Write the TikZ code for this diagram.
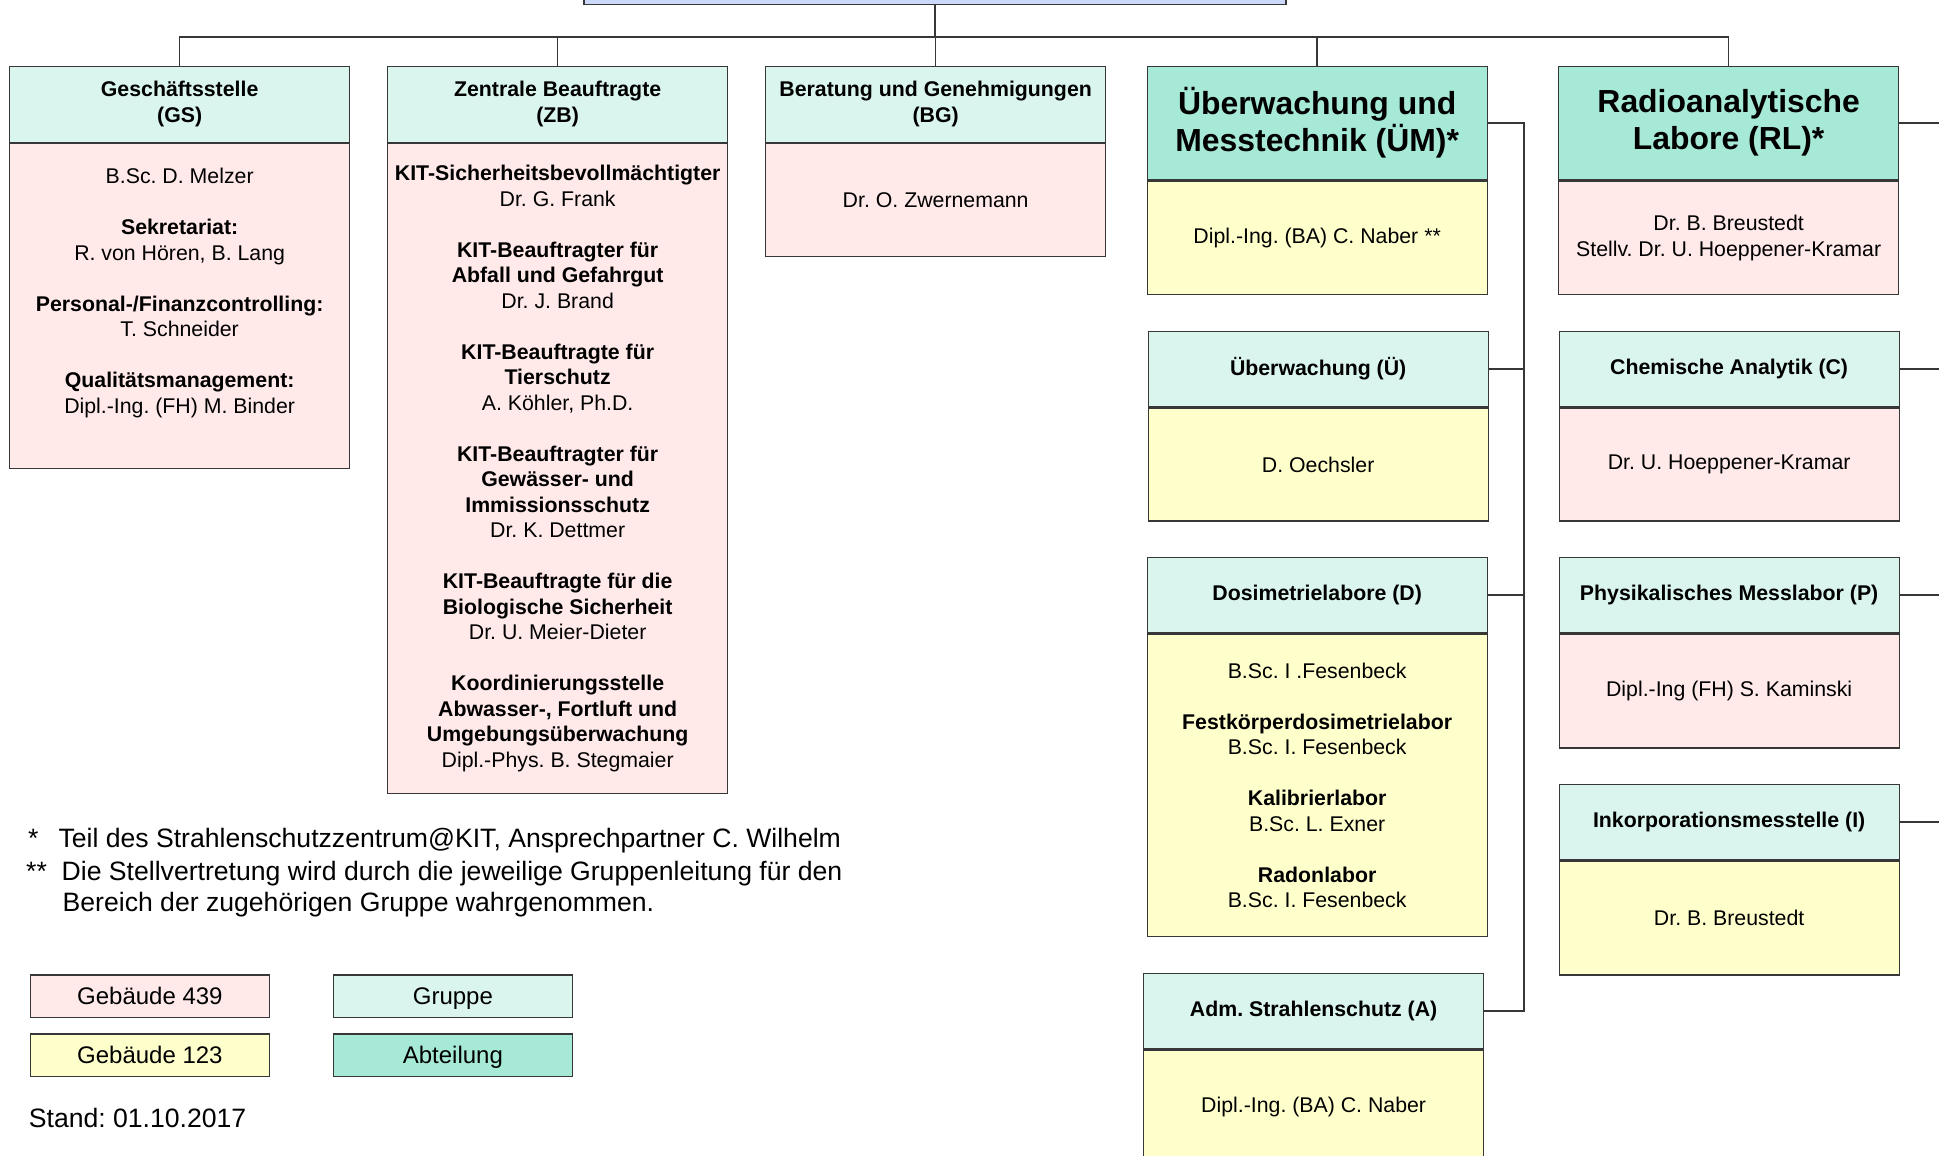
\documentclass[tikz,border=0pt]{standalone}
\usepackage{fontspec}
\setmainfont{Liberation Sans}
\usetikzlibrary{positioning}
\frenchspacing
\definecolor{pinkc}{RGB}{255,233,233}
\definecolor{yelc}{RGB}{255,255,204}
\definecolor{grpc}{RGB}{218,245,238}
\definecolor{abtc}{RGB}{166,233,215}
\definecolor{bluec}{RGB}{204,217,250}
\definecolor{linec}{RGB}{55,55,55}
\newcommand\myhfont{\fontsize{21.3}{26}\selectfont\bfseries}
\newcommand\mybfont{\fontsize{21.3}{25.5}\selectfont}
\newcommand\mybigfont{\fontsize{31.9}{37}\selectfont\bfseries}
\newcommand\myfnfont{\fontsize{26.6}{32}\selectfont}
\newcommand\mylgfont{\fontsize{24}{28}\selectfont}
\begin{document}
\frenchspacing
\begin{tikzpicture}[x=1pt,y=-1pt,
  box/.style={draw=linec, line width=1.3pt, inner sep=0pt, align=center,
    minimum width=340pt, anchor=north west},
  grp/.style={box, fill=grpc, font=\myhfont},
  abt/.style={box, fill=abtc, font=\mybigfont},
  pinkbox/.style={box, fill=pinkc, font=\mybfont},
  yelbox/.style={box, fill=yelc, font=\mybfont},
  txt/.style={inner sep=0pt, align=center, font=\mybfont},
  conn/.style={draw=linec, line width=1.4pt},
  fn/.style={inner sep=0pt, font=\myfnfont, anchor=base west},
  lg/.style={box, font=\mylgfont, minimum width=238.5pt, minimum height=42.4pt,
    text height=17.5pt, text depth=0pt}]
\useasboundingbox (0,0) rectangle (1939,1156);
\clip (0,0) rectangle (1939,1156);

% top box (cut off)
\node[box, fill=bluec, minimum width=702pt, minimum height=80pt, anchor=south] (top) at (935,5) {};

% GS
\node[grp, minimum height=76pt] (gsH) at (9,65.7) {Geschäftsstelle\\(GS)};
\node[pinkbox, minimum height=325pt] (gsB) at (gsH.south west) {};
\node[txt, below=25pt of gsB.north] (gsT) {B.Sc. D. Melzer\\[25.5pt]
\textbf{Sekretariat:}\\
R. von Hören, B. Lang\\[25.5pt]
\textbf{Personal-/Finanzcontrolling:}\\
T. Schneider\\[25.5pt]
\textbf{Qualitätsmanagement:}\\
Dipl.-Ing. (FH) M. Binder};

% ZB
\node[grp, minimum height=76pt] (zbH) at (387,65.7) {Zentrale Beauftragte\\(ZB)};
\node[pinkbox, minimum height=650pt] (zbB) at (zbH.south west) {\textbf{KIT-Sicherheitsbevollmächtigter}\\
Dr. G. Frank\\[25.5pt]
\textbf{KIT-Beauftragter für}\\
\textbf{Abfall und Gefahrgut}\\
Dr. J. Brand\\[25.5pt]
\textbf{KIT-Beauftragte für}\\
\textbf{Tierschutz}\\
A. Köhler, Ph.D.\\[25.5pt]
\textbf{KIT-Beauftragter für}\\
\textbf{Gewässer- und}\\
\textbf{Immissionsschutz}\\
Dr. K. Dettmer\\[25.5pt]
\textbf{KIT-Beauftragte für die}\\
\textbf{Biologische Sicherheit}\\
Dr. U. Meier-Dieter\\[25.5pt]
\textbf{Koordinierungsstelle}\\
\textbf{Abwasser-, Fortluft und}\\
\textbf{Umgebungsüberwachung}\\
Dipl.-Phys. B. Stegmaier};

% BG
\node[grp, minimum height=76pt] (bgH) at (765,65.7) {Beratung und Genehmigungen\\(BG)};
\node[pinkbox, minimum height=113pt] (bgB) at (bgH.south west) {Dr. O. Zwernemann};

% ÜM
\node[abt, minimum height=113.3pt] (umH) at (1146.5,65.7) {Überwachung und\\Messtechnik (ÜM)*};
\node[yelbox, minimum height=113.7pt] (umB) at (umH.south west) {Dipl.-Ing. (BA) C. Naber **};

% RL
\node[abt, minimum height=113.3pt] (rlH) at (1558,65.7) {Radioanalytische\\Labore (RL)*};
\node[pinkbox, minimum height=113.7pt] (rlB) at (rlH.south west) {Dr. B. Breustedt\\Stellv. Dr. U. Hoeppener-Kramar};

% Ü
\node[grp, minimum height=75.3pt] (uH) at (1147.5,330.7) {Überwachung (Ü)};
\node[yelbox, minimum height=113pt] (uB) at (uH.south west) {D. Oechsler};

% C
\node[grp, minimum height=75.3pt] (cH) at (1558.5,330.7) {Chemische Analytik (C)};
\node[pinkbox, minimum height=113pt] (cB) at (cH.south west) {Dr. U. Hoeppener-Kramar};

% D
\node[grp, minimum height=75pt] (dH) at (1146.5,557) {Dosimetrielabore (D)};
\node[yelbox, minimum height=302.7pt] (dB) at (dH.south west) {B.Sc. I .Fesenbeck\\[25.5pt]
\textbf{Festkörperdosimetrielabor}\\
B.Sc. I. Fesenbeck\\[25.5pt]
\textbf{Kalibrierlabor}\\
B.Sc. L. Exner\\[25.5pt]
\textbf{Radonlabor}\\
B.Sc. I. Fesenbeck};

% P
\node[grp, minimum height=75pt] (pH) at (1558.5,557) {Physikalisches Messlabor (P)};
\node[pinkbox, minimum height=114pt] (pB) at (pH.south west) {Dipl.-Ing (FH) S. Kaminski};

% I
\node[grp, minimum height=75pt] (iH) at (1558.5,784) {Inkorporationsmesstelle (I)};
\node[yelbox, minimum height=114pt] (iB) at (iH.south west) {Dr. B. Breustedt};

% A
\node[grp, minimum height=75pt] (aH) at (1143,973) {Adm. Strahlenschutz (A)};
\node[yelbox, minimum height=114pt] (aB) at (aH.south west) {Dipl.-Ing. (BA) C. Naber};

% connectors
\coordinate (bus) at (0,37);
\draw[conn] (top.south) -- (top.south |- bus);
\draw[conn] (gsH.north) -- (gsH.north |- bus) -| (rlH.north);
\draw[conn] (zbH.north) -- (zbH.north |- bus);
\draw[conn] (bgH.north) -- (bgH.north |- bus);
\draw[conn] (umH.north) -- (umH.north |- bus);

\coordinate (vb) at (1524,0);
\draw[conn] (umH.east) -| (vb |- aH.east) -- (aH.east);
\draw[conn] (uH.east) -- (uH.east -| vb);
\draw[conn] (dH.east) -- (dH.east -| vb);

\coordinate (edge) at (1950,0);
\draw[conn] (rlH.east) -- (rlH.east -| edge);
\draw[conn] (cH.east) -- (cH.east -| edge);
\draw[conn] (pH.east) -- (pH.east -| edge);
\draw[conn] (iH.east) -- (iH.east -| edge);

% footnotes
\node[fn] (s1) at (28,847.8) {*};
\node[fn] (f1) at (58.3,847.8) {Teil des Strahlenschutzzentrum@KIT, Ansprechpartner C. Wilhelm};
\node[fn] (s2) at (26,880.2) {**};
\node[fn] (f2) at (61.5,880.2) {Die Stellvertretung wird durch die jeweilige Gruppenleitung für den};
\node[fn] (f3) at (62.5,911.2) {Bereich der zugehörigen Gruppe wahrgenommen.};

% legend
\node[lg, fill=pinkc] (l1) at (30,974.3) {Gebäude 439};
\node[lg, fill=grpc] (l2) at (333,974.3) {Gruppe};
\node[lg, fill=yelc] (l3) at (30,1033.3) {Gebäude 123};
\node[lg, fill=abtc] (l4) at (333,1033.3) {Abteilung};

\node[fn] (stand) at (28.7,1127.2) {Stand: 01.10.2017};
\end{tikzpicture}
\end{document}
